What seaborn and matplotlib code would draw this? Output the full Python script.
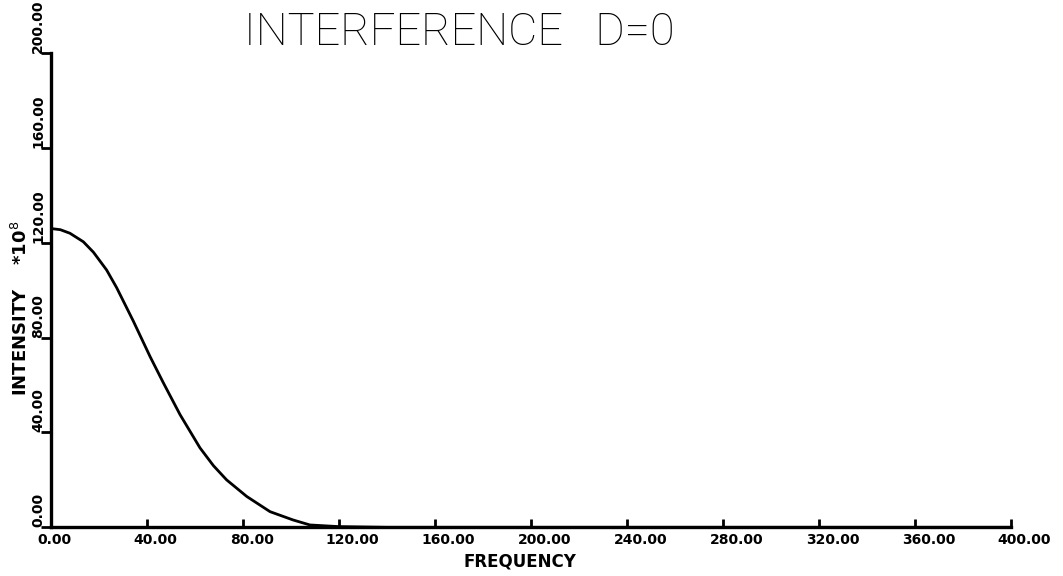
import matplotlib
matplotlib.use("Agg")
import matplotlib.pyplot as plt
import matplotlib.transforms as mtransforms
import seaborn as sns
import pandas as pd

# ---- data ----
frequency = [0, 4, 8, 13.6, 17.8, 23.3, 27.5, 34.4, 41.4, 46.9, 53.9, 62.2,
             67.8, 73.3, 81.7, 91.4, 101, 108, 120, 140, 200, 400]
intensity = [126, 125.5, 124, 120.4, 116, 108.5, 101, 87, 72, 61, 47.5,
             33.5, 26, 20, 13.0, 6.6, 3.1, 1.0, 0.3, 0, 0, 0]
x_ticks = [0, 40, 80, 120, 160, 200, 240, 280, 320, 360, 400]
y_ticks = [0, 40, 80, 120, 160, 200]
x_tick_labels = ["0.00", "40.00", "80.00", "120.00", "160.00", "200.00",
                 "240.00", "280.00", "320.00", "360.00", "400.00"]
y_tick_labels = ["0.00", "40.00", "80.00", "120.00", "160.00", "200.00"]
title = "INTERFERENCE   D=0"
x_label = "FREQUENCY"
y_label = "INTENSITY    *10$^{8}$"

sns.set_theme(style="ticks")
plt.rcParams["font.family"] = ["DejaVu Sans"]
plt.rcParams["text.color"] = "black"
plt.rcParams["axes.labelcolor"] = "black"

df = pd.DataFrame({"freq": frequency, "inten": intensity})

fig = plt.figure(figsize=(10.63, 5.76), dpi=100)
ax = fig.add_axes([0.0477, 0.0845, 0.9031, 0.8235])

sns.lineplot(data=df, x="freq", y="inten", ax=ax, color="black",
             linewidth=2.0, estimator=None, sort=False)

ax.set_xlim(0, 400)
ax.set_ylim(0, 200)
ax.margins(0)

for s in ["top", "right"]:
    ax.spines[s].set_visible(False)
for s in ["left", "bottom"]:
    ax.spines[s].set_linewidth(2.4)
    ax.spines[s].set_color("black")

ax.set_xticks(x_ticks)
ax.set_xticklabels(x_tick_labels, fontsize=10, fontweight="bold", color="black")
ax.set_yticks(y_ticks)
ax.set_yticklabels(y_tick_labels, fontsize=10, fontweight="bold",
                   rotation=90, va="bottom", color="black")
ax.tick_params(axis="x", direction="in", length=6, width=2, pad=4,
               colors="black")
ax.tick_params(axis="y", direction="out", length=7, width=2, pad=-3,
               colors="black")

offset = mtransforms.ScaledTranslation(-13 / 100, 0, fig.dpi_scale_trans)
for lab in ax.get_xticklabels():
    lab.set_horizontalalignment("left")
    lab.set_transform(lab.get_transform() + offset)

ax.set_xlabel(x_label, fontsize=12, fontweight="bold", color="black")
ax.xaxis.set_label_coords(0.489, -0.072)
ax.xaxis.label.set_va("center")
ax.set_ylabel(y_label, fontsize=13, fontweight="bold", color="black")
ax.yaxis.set_label_coords(-0.031, 0.461)
ax.yaxis.label.set_va("center")

fig.text(0.432, 0.944, title, fontsize=32.5,
         fontfamily=["Roboto", "DejaVu Sans"],
         fontweight="light", ha="center", va="center", color="black")

fig.savefig("out.png", dpi=100, facecolor="white")
